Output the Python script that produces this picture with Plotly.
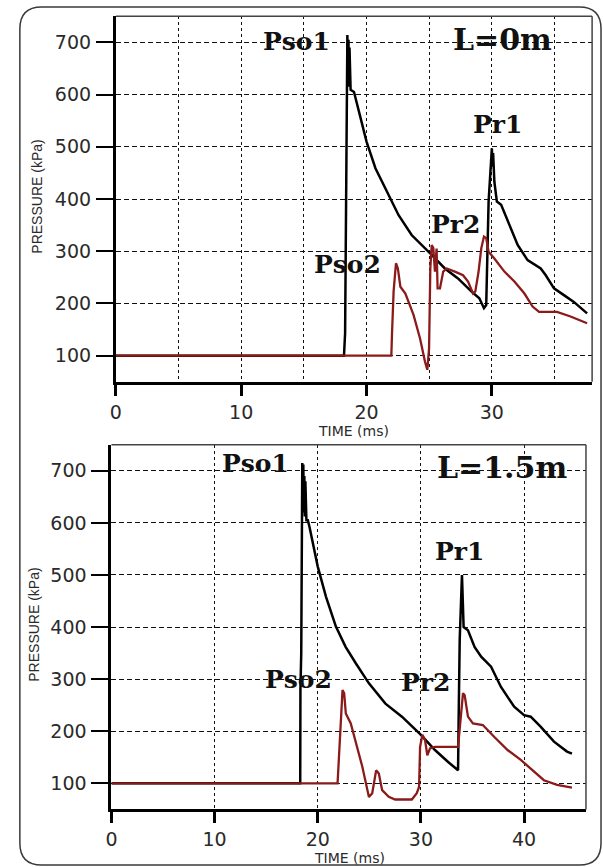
import plotly.graph_objects as go

# ---------------- data ----------------
# Panel 1: L = 0 m
top_black_t = [0, 18.2, 18.29, 18.34, 18.39, 18.47, 18.52, 18.56, 18.6, 18.64, 18.68, 18.73, 19.0, 19.4, 20.0,
               20.71, 21.77, 22.56, 23.6, 24.67, 25.2, 26.25, 27.3, 28.36, 29.0, 29.37, 29.55, 29.74, 29.9, 30.0,
               30.05, 30.1, 30.2, 30.4, 30.74, 31.27, 32.06, 32.85, 33.9, 34.3, 34.96, 35.75, 36.54, 37.6]
top_black_p = [100, 100, 143, 261, 459, 714, 620, 705, 615, 690, 610, 609, 605, 567, 510,
               459, 408, 369, 331, 306, 293, 267, 248, 223, 210, 191, 197, 395, 465, 497,
               462, 488, 433, 395, 389, 357, 312, 283, 267, 254, 229, 216, 203, 181]

top_red_t = [0, 21.98, 22.03, 22.16, 22.35, 22.5, 22.7, 23.1, 23.75, 24.27, 24.67, 24.85, 24.99, 25.09, 25.2,
             25.33, 25.46, 25.59, 25.67, 25.86, 26.12, 26.4, 27.05, 27.7, 28.1, 28.5, 28.68, 28.94, 29.16, 29.37,
             29.55, 29.74, 30.2, 31.0, 31.8, 32.6, 33.25, 33.77, 35.2, 36.28, 37.6]
top_red_p = [100, 100, 140, 223, 277, 267, 232, 219, 178, 133, 88, 73, 114, 267, 312,
             306, 261, 305, 229, 229, 261, 267, 261, 254, 242, 219, 223, 261, 306, 328,
             325, 299, 286, 261, 242, 219, 194, 184, 184, 175, 162]

# Panel 2: L = 1.5 m
bot_black_t = [0, 18.3, 18.32, 18.4, 18.5, 18.55, 18.6, 18.65, 18.7, 18.75, 18.8, 18.9, 19.04, 19.2, 20.0,
               20.8, 21.76, 22.7, 23.7, 24.96, 26.56, 28.16, 30.0, 31.36, 32.64, 33.6, 33.66, 33.76, 33.98,
               34.08, 34.14, 34.56, 35.2, 35.84, 36.8, 37.76, 39.04, 40.0, 40.64, 41.6, 42.9, 44.16, 44.64]
bot_black_p = [100, 100, 280, 350, 715, 640, 712, 620, 690, 612, 680, 605, 605, 592, 516,
               458, 401, 362, 330, 292, 253, 228, 193, 164, 141, 125, 228, 375, 500,
               452, 400, 394, 362, 343, 324, 285, 247, 231, 228, 209, 180, 161, 157]

bot_red_t = [0, 21.92, 22.0, 22.18, 22.4, 22.56, 22.72, 23.2, 23.68, 24.32, 24.96, 25.28, 25.66, 25.92, 26.24,
             26.88, 27.5, 29.12, 29.6, 29.82, 29.92, 30.14, 30.4, 30.62, 30.88, 31.36, 33.6, 33.86, 34.08,
             34.24, 34.56, 35.04, 36.0, 37.12, 38.4, 39.68, 40.96, 41.92, 43.2, 44.64]
bot_red_p = [100, 100, 130, 209, 279, 273, 234, 215, 177, 132, 74, 81, 125, 119, 87,
             74, 69, 69, 81, 93, 170, 193, 183, 154, 167, 170, 170, 221, 273,
             269, 228, 215, 212, 189, 164, 145, 122, 106, 97, 92]

y_ticks = [100, 200, 300, 400, 500, 600, 700]
top_x_ticks = [0, 10, 20, 30]
bot_x_ticks = [0, 10, 20, 30, 40]
top_x_range = [0, 38]
bot_x_range = [0, 46]
y_range = [50, 750]

x_title = "TIME (ms)"
y_title = "PRESSURE (kPa)"
panel_labels = ["L=0m", "L=1.5m"]

# ---------------- figure ----------------
W, H = 603, 867
BLACK = "#000000"
RED = "#8b1a1a"


def px(x):
    return x / W


def py(y):
    return 1 - y / H


def curve(t, p, color, width, xa, ya):
    return go.Scatter(x=t, y=p, mode="lines",
                      line=dict(color=color, width=width, shape="linear"),
                      xaxis=xa, yaxis=ya, showlegend=False)


fig = go.Figure()
fig.add_trace(curve(top_black_t, top_black_p, BLACK, 2.5, "x", "y"))
fig.add_trace(curve(top_red_t, top_red_p, RED, 2.3, "x", "y"))
fig.add_trace(curve(bot_black_t, bot_black_p, BLACK, 2.5, "x2", "y2"))
fig.add_trace(curve(bot_red_t, bot_red_p, RED, 2.3, "x2", "y2"))

tickfont = dict(family="DejaVu Sans", size=19, color="#2a2a2a")
grid_common = dict(gridcolor="#111111", gridwidth=1.3)

xcommon = dict(showline=True, linecolor=BLACK, linewidth=3, ticks="outside", ticklen=11, tickwidth=3,
               tickcolor=BLACK, tickfont=tickfont, zeroline=False, showgrid=True, griddash="3px,3px",
               **grid_common, tickmode="array")
ycommon = dict(showline=True, linecolor=BLACK, linewidth=3, ticks="outside", ticklen=17, tickwidth=2,
               tickcolor=BLACK, tickfont=tickfont, zeroline=False, showgrid=True, griddash="5px,3px",
               **grid_common, tickmode="array", tickvals=y_ticks, range=y_range, ticklabelstandoff=1)

fig.update_layout(
    width=W, height=H, margin=dict(l=0, r=0, t=0, b=0),
    paper_bgcolor="white", plot_bgcolor="white",
    xaxis=dict(domain=[px(111), px(592)], range=top_x_range, tickvals=top_x_ticks, anchor="y",
               minor=dict(dtick=5, showgrid=True, griddash="3px,3px", gridcolor="#111111", gridwidth=1.3,
                          ticks=""),
               **xcommon),
    yaxis=dict(domain=[py(381.8), py(16.2)], anchor="x", **ycommon),
    xaxis2=dict(domain=[px(106.5), px(585.8)], range=bot_x_range, tickvals=bot_x_ticks, anchor="y2",
                **xcommon),
    yaxis2=dict(domain=[py(809.4), py(444.7)], anchor="x2", **ycommon),
)

# thin top / right borders of each plot area
for xr, yr in (("x", "y"), ("x2", "y2")):
    fig.add_shape(type="line", xref=f"{xr} domain", yref=f"{yr} domain", x0=0, x1=1, y0=1, y1=1,
                  line=dict(color="#444444", width=1.5))
    fig.add_shape(type="line", xref=f"{xr} domain", yref=f"{yr} domain", x0=1, x1=1, y0=0, y1=1,
                  line=dict(color="#444444", width=1.5))

# rounded outer frame
L_, R_, T_, B_, rad = 14, 601, 7, 865, 22
path = (f"M {px(L_ + rad)} {py(T_)} L {px(R_ - rad)} {py(T_)} Q {px(R_)} {py(T_)} {px(R_)} {py(T_ + rad)} "
        f"L {px(R_)} {py(B_ - rad)} Q {px(R_)} {py(B_)} {px(R_ - rad)} {py(B_)} "
        f"L {px(L_ + rad)} {py(B_)} Q {px(L_)} {py(B_)} {px(L_)} {py(B_ - rad)} "
        f"L {px(L_)} {py(T_ + rad)} Q {px(L_)} {py(T_)} {px(L_ + rad)} {py(T_)} Z")
fig.add_shape(type="path", path=path, xref="paper", yref="paper", line=dict(color="#3a3a3a", width=1.5),
              layer="below")

# text labels
serif_lbl = dict(family="DejaVu Serif", size=25, color="#111111")
serif_big = dict(family="DejaVu Serif", size=30, color="#111111")


def label(text, x, y, font):
    fig.add_annotation(text=f"<b>{text}</b>", x=px(x), y=py(y), xref="paper", yref="paper",
                       showarrow=False, font=font, xanchor="center", yanchor="middle")


label("Pso1", 293, 42, serif_lbl)
label(panel_labels[0], 501, 39, serif_big)
label("Pr1", 496, 124, serif_lbl)
label("Pr2", 454, 224, serif_lbl)
label("Pso2", 345, 264, serif_lbl)

label("Pso1", 252, 463, serif_lbl)
label(panel_labels[1], 501, 467, serif_big)
label("Pr1", 458, 551, serif_lbl)
label("Pso2", 295, 679, serif_lbl)
label("Pr2", 424, 682, serif_lbl)

title_font = dict(family="DejaVu Sans", size=14, color="#2a2a2a")
ytitle_font = dict(family="Liberation Sans", size=14, color="#2a2a2a")
for (tx, ty) in ((351, 431), (347, 858)):
    fig.add_annotation(text=x_title, x=px(tx), y=py(ty), xref="paper", yref="paper", showarrow=False,
                       font=title_font, xanchor="center", yanchor="middle")
for (tx, ty) in ((31, 197), (28, 625)):
    fig.add_annotation(text=y_title, x=px(tx), y=py(ty), xref="paper", yref="paper", showarrow=False,
                       font=ytitle_font, xanchor="center", yanchor="middle", textangle=-90)

fig.write_html("out.html")
